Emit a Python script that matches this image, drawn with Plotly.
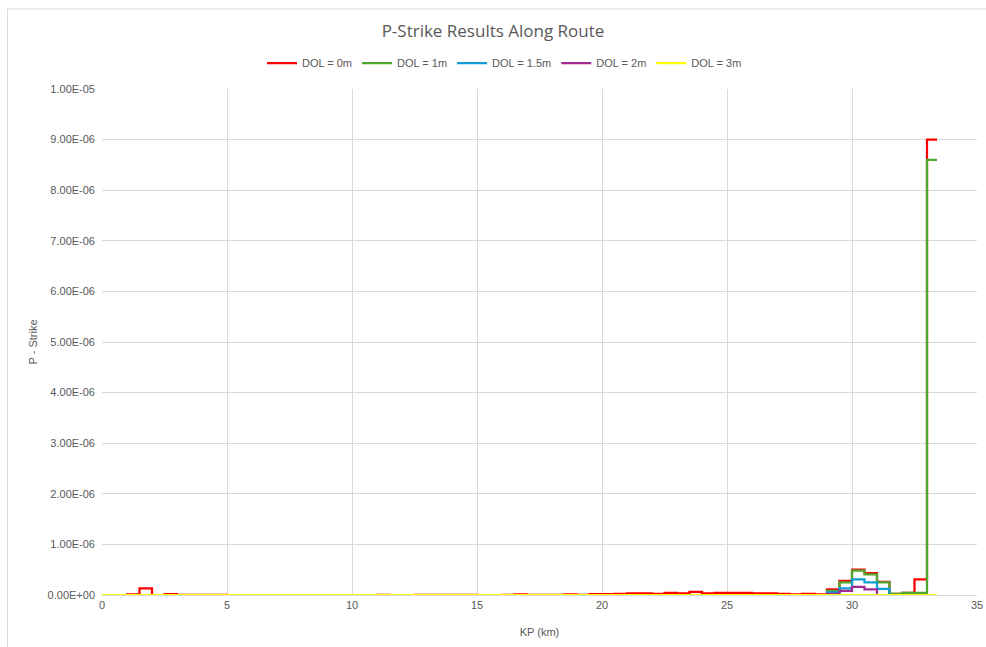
import plotly.graph_objects as go

# KP bin starts (km), 0.5 km bins, last point is end of route
kp = [i * 0.5 for i in range(67)] + [33.4]

# P-Strike per bin, in units of 1E-06
dol_0m = [0.0, 0.0, 0.01, 0.13, 0.0, 0.015, 0.005, 0.005, 0.005, 0.005,
          0.0, 0.0, 0.0, 0.0, 0.0, 0.0, 0.0, 0.0, 0.0, 0.0,
          0.0, 0.0, 0.005, 0.0, 0.0, 0.005, 0.005, 0.005, 0.005, 0.005,
          0.0, 0.0, 0.005, 0.01, 0.005, 0.005, 0.005, 0.01, 0.005, 0.015,
          0.015, 0.02, 0.03, 0.03, 0.02, 0.04, 0.03, 0.06, 0.03, 0.04,
          0.04, 0.04, 0.03, 0.03, 0.02, 0.01, 0.02, 0.01, 0.11, 0.28,
          0.50, 0.43, 0.26, 0.02, 0.04, 0.31, 9.0, 9.0]
dol_1m = [0.0] * 58 + [0.08, 0.25, 0.48, 0.41, 0.25, 0.02, 0.04, 0.04, 8.6, 8.6]
dol_15m = [0.0] * 58 + [0.05, 0.13, 0.31, 0.25, 0.12, 0.0, 0.0, 0.0, 0.0, 0.0]
dol_2m = [0.0] * 58 + [0.02, 0.08, 0.16, 0.11, 0.0, 0.0, 0.0, 0.0, 0.0, 0.0]
dol_3m = [0.0] * 68

series_names = ["DOL = 0m", "DOL = 1m", "DOL = 1.5m", "DOL = 2m", "DOL = 3m"]
series_vals = [dol_0m, dol_1m, dol_15m, dol_2m, dol_3m]
colors = ["#FF0000", "#4EA72E", "#0F9ED5", "#A02B93", "#FFFF00"]

ytick_vals = [i * 1e-6 for i in range(11)]
ytick_text = ["0.00E+00", "1.00E-06", "2.00E-06", "3.00E-06", "4.00E-06", "5.00E-06",
              "6.00E-06", "7.00E-06", "8.00E-06", "9.00E-06", "1.00E-05"]

grey = "#595959"

fig = go.Figure()
for name, vals, col in zip(series_names, series_vals, colors):
    fig.add_trace(go.Scatter(
        x=kp,
        y=[v * 1e-6 for v in vals],
        mode="lines",
        line=dict(color=col, width=2.25, shape="hv"),
        name=name,
    ))

fig.update_xaxes(
    range=[0, 35], dtick=5, tick0=0,
    showgrid=True, gridcolor="#d9d9d9", gridwidth=1,
    showline=True, linecolor="#d9d9d9", linewidth=1,
    zeroline=False, ticks="", automargin=False,
    tickfont=dict(family="Liberation Sans", size=11, color=grey),
    title=dict(text="KP (km)", font=dict(family="Liberation Sans", size=11, color=grey), standoff=18),
)
fig.update_yaxes(
    range=[0, 1e-5],
    tickvals=ytick_vals, ticktext=ytick_text,
    showgrid=True, gridcolor="#d9d9d9", gridwidth=1,
    zeroline=False, showline=False, ticks="", automargin=False,
    tickfont=dict(family="Liberation Sans", size=11, color=grey),
    ticklabelstandoff=6,
    title=dict(text="P - Strike", font=dict(family="Liberation Sans", size=11, color=grey), standoff=7),
)

fig.update_layout(
    width=986, height=647,
    margin=dict(l=102, r=9, t=89, b=52),
    paper_bgcolor="white", plot_bgcolor="white",
    title=dict(text="P-Strike Results Along Route", x=0.5, xanchor="center",
               y=1 - 31 / 647, yanchor="middle",
               font=dict(family="Open Sans", size=17, color=grey)),
    legend=dict(orientation="h", x=0.46, xanchor="center", y=1 + 26 / 506, yanchor="middle",
                font=dict(family="Liberation Sans", size=11, color=grey),
                itemwidth=30, tracegroupgap=0),
    showlegend=True,
)

# chart area border
fig.add_shape(type="rect", xref="paper", yref="paper",
              x0=-94.5 / 875, x1=1.02, y0=-0.2, y1=1 + 80 / 506,
              line=dict(color="#d9d9d9", width=1), layer="below")

# drop the default body margin so the figure sits at the window origin
fig.write_html("out.html", config={"displayModeBar": False},
               post_script="document.body.style.margin='0';")
